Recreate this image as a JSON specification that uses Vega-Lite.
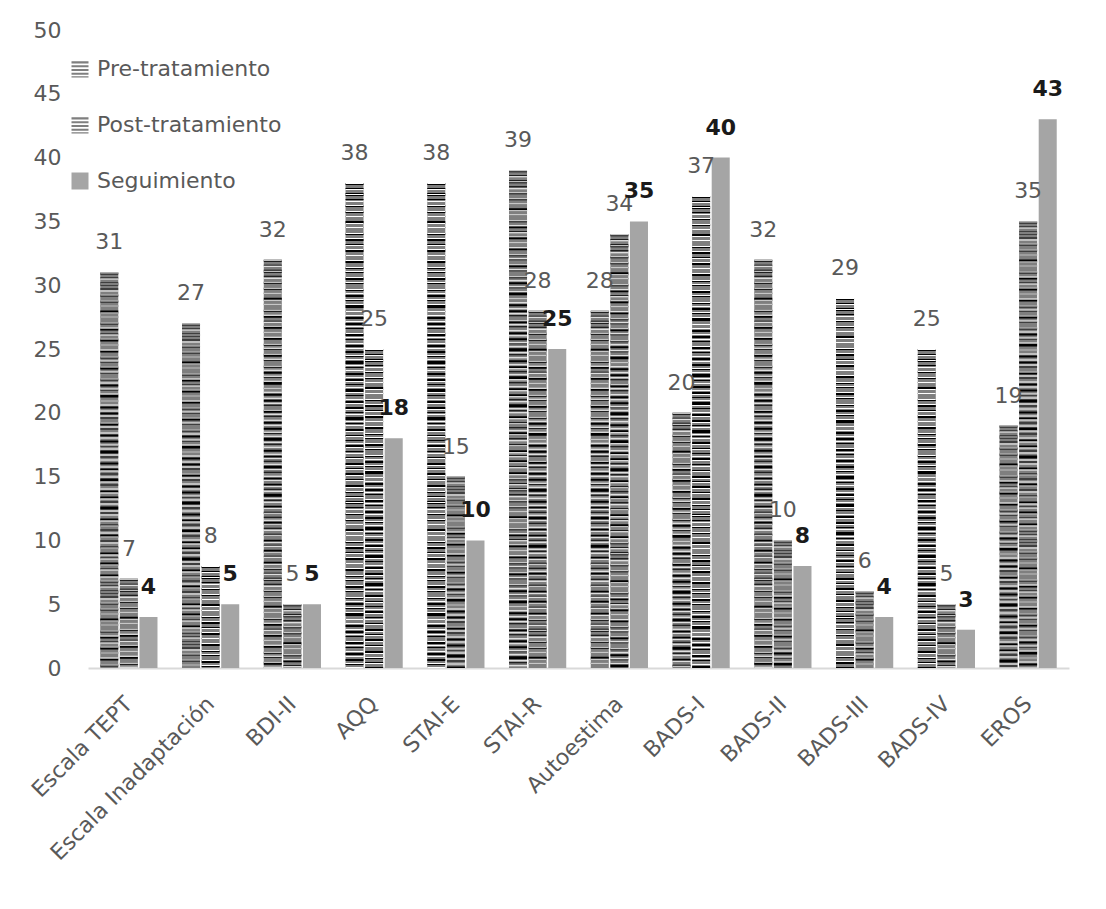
{
  "$schema": "https://vega.github.io/schema/vega-lite/v6.json",
  "width": 981,
  "height": 638,
  "autosize": {"type": "none"},
  "padding": {"left": 88, "top": 30, "right": 37, "bottom": 241},
  "config": {
    "font": "DejaVu Sans",
    "view": {"stroke": null}
  },
  "data": {
    "values": [
      {"medida": "Escala TEPT", "serie": "Pre-tratamiento", "valor": 31},
      {"medida": "Escala TEPT", "serie": "Post-tratamiento", "valor": 7},
      {"medida": "Escala TEPT", "serie": "Seguimiento", "valor": 4},
      {"medida": "Escala Inadaptación", "serie": "Pre-tratamiento", "valor": 27},
      {"medida": "Escala Inadaptación", "serie": "Post-tratamiento", "valor": 8},
      {"medida": "Escala Inadaptación", "serie": "Seguimiento", "valor": 5},
      {"medida": "BDI-II", "serie": "Pre-tratamiento", "valor": 32},
      {"medida": "BDI-II", "serie": "Post-tratamiento", "valor": 5},
      {"medida": "BDI-II", "serie": "Seguimiento", "valor": 5},
      {"medida": "AQQ", "serie": "Pre-tratamiento", "valor": 38},
      {"medida": "AQQ", "serie": "Post-tratamiento", "valor": 25},
      {"medida": "AQQ", "serie": "Seguimiento", "valor": 18},
      {"medida": "STAI-E", "serie": "Pre-tratamiento", "valor": 38},
      {"medida": "STAI-E", "serie": "Post-tratamiento", "valor": 15},
      {"medida": "STAI-E", "serie": "Seguimiento", "valor": 10},
      {"medida": "STAI-R", "serie": "Pre-tratamiento", "valor": 39},
      {"medida": "STAI-R", "serie": "Post-tratamiento", "valor": 28},
      {"medida": "STAI-R", "serie": "Seguimiento", "valor": 25},
      {"medida": "Autoestima", "serie": "Pre-tratamiento", "valor": 28},
      {"medida": "Autoestima", "serie": "Post-tratamiento", "valor": 34},
      {"medida": "Autoestima", "serie": "Seguimiento", "valor": 35},
      {"medida": "BADS-I", "serie": "Pre-tratamiento", "valor": 20},
      {"medida": "BADS-I", "serie": "Post-tratamiento", "valor": 37},
      {"medida": "BADS-I", "serie": "Seguimiento", "valor": 40},
      {"medida": "BADS-II", "serie": "Pre-tratamiento", "valor": 32},
      {"medida": "BADS-II", "serie": "Post-tratamiento", "valor": 10},
      {"medida": "BADS-II", "serie": "Seguimiento", "valor": 8},
      {"medida": "BADS-III", "serie": "Pre-tratamiento", "valor": 29},
      {"medida": "BADS-III", "serie": "Post-tratamiento", "valor": 6},
      {"medida": "BADS-III", "serie": "Seguimiento", "valor": 4},
      {"medida": "BADS-IV", "serie": "Pre-tratamiento", "valor": 25},
      {"medida": "BADS-IV", "serie": "Post-tratamiento", "valor": 5},
      {"medida": "BADS-IV", "serie": "Seguimiento", "valor": 3},
      {"medida": "EROS", "serie": "Pre-tratamiento", "valor": 19},
      {"medida": "EROS", "serie": "Post-tratamiento", "valor": 35},
      {"medida": "EROS", "serie": "Seguimiento", "valor": 43}
    ]
  },
  "encoding": {
    "x": {
      "field": "medida",
      "type": "nominal",
      "sort": null,
      "scale": {"paddingInner": 0.3, "paddingOuter": 0.15},
      "axis": {
        "title": null,
        "labelAngle": -45,
        "labelAlign": "right",
        "labelBaseline": "middle",
        "labelFontSize": 22,
        "labelColor": "#595959",
        "labelPadding": 32,
        "labelLimit": 400,
        "ticks": false,
        "domainColor": "#d9d9d9",
        "domainWidth": 2
      }
    },
    "xOffset": {
      "field": "serie",
      "type": "nominal",
      "sort": ["Pre-tratamiento", "Post-tratamiento", "Seguimiento"],
      "scale": {"paddingInner": 0.08}
    },
    "y": {
      "field": "valor",
      "type": "quantitative",
      "scale": {"domain": [0, 50], "nice": false},
      "axis": {
        "title": null,
        "values": [0, 5, 10, 15, 20, 25, 30, 35, 40, 45, 50],
        "domain": false,
        "ticks": false,
        "grid": false,
        "labelFontSize": 22,
        "labelColor": "#595959",
        "labelPadding": 27
      }
    }
  },
  "layer": [
    {
      "mark": {"type": "bar"},
      "encoding": {
        "fill": {
          "field": "serie",
          "type": "nominal",
          "sort": ["Pre-tratamiento", "Post-tratamiento", "Seguimiento"],
          "scale": {"range": ["#7f7f7f", "#7f7f7f", "#a5a5a5"]},
          "legend": {
            "title": null,
            "orient": "none",
            "legendX": -19,
            "legendY": 28,
            "labelFontSize": 22,
            "labelColor": "#595959",
            "labelLimit": 400,
            "labelOffset": 6,
            "symbolSize": 289,
            "rowPadding": 34,
            "encode": {
              "symbols": {
                "update": {
                  "shape": {"signal": "datum.label == 'Seguimiento' ? 'square' : 'M-1,-0.9H1V-0.66H-1Z M-1,-0.45H1V-0.21H-1Z M-1,0H1V0.24H-1Z M-1,0.45H1V0.69H-1Z M-1,0.85H1V1H-1Z'"},
                  "fill": {"signal": "datum.label == 'Seguimiento' ? '#a5a5a5' : '#1a1a1a'"},
                  "strokeWidth": {"value": 0}
                }
              }
            }
          }
        }
      }
    },
    {
      "transform": [{"filter": "datum.serie != 'Seguimiento'"}],
      "mark": {"type": "rule", "color": "#000000", "strokeWidth": 18, "strokeCap": "butt", "strokeDash": [2, 3, 1, 4, 3, 3, 1, 5, 2, 4]},
      "encoding": {"y2": {"datum": 0}}
    },
    {
      "transform": [{"filter": "datum.serie != 'Seguimiento'"}],
      "mark": {"type": "rule", "color": "#ffffff", "strokeWidth": 18, "strokeCap": "butt", "strokeDash": [1, 5, 1, 4, 1, 6, 1, 3]},
      "encoding": {"y2": {"datum": 0}}
    },
    {
      "transform": [{"filter": "datum.serie != 'Seguimiento'"}],
      "mark": {"type": "text", "baseline": "middle", "dy": -30, "fontSize": 22, "color": "#595959"},
      "encoding": {"text": {"field": "valor", "type": "quantitative"}}
    },
    {
      "transform": [{"filter": "datum.serie == 'Seguimiento'"}],
      "mark": {"type": "text", "baseline": "middle", "dy": -30, "fontSize": 22, "fontWeight": "bold", "color": "#1a1a1a"},
      "encoding": {"text": {"field": "valor", "type": "quantitative"}}
    }
  ]
}
